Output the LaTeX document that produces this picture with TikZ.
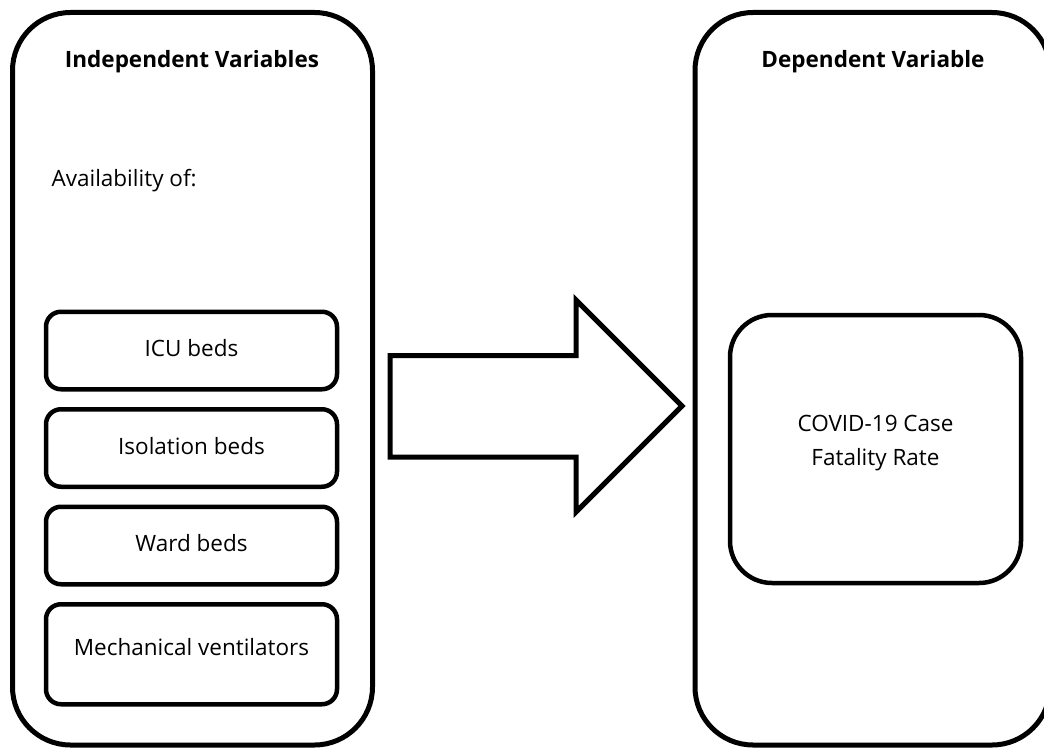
\documentclass[tikz,border=0pt]{standalone}
\usepackage{fontspec}
\setmainfont{Open Sans}
\usetikzlibrary{positioning}
\tikzset{outerbox/.style={draw, rectangle, rounded corners=58pt, line width=5pt, minimum height=732.5pt, inner sep=0pt, outer sep=0pt}}
\tikzset{itembox/.style={draw, rectangle, rounded corners=15pt, line width=4.5pt, minimum width=291pt, minimum height=77.5pt, text height=17pt, text depth=5pt, inner sep=0pt, outer sep=0pt, font=\fontsize{22.5}{34}\selectfont}}
\tikzset{title/.style={font=\bfseries\fontsize{22.5}{34}\selectfont}}
\tikzset{blockarrow/.style={draw, line width=5pt}}

\begin{document}
\begin{tikzpicture}[x=1pt, y=-1pt]
    \useasboundingbox (0,0) rectangle (1044,749);

    % the two big panels
    \node [outerbox, minimum width=360pt] (indep) at (192.5,378.75) {};
    \node [outerbox, minimum width=355pt] (dep) at (872.5,378.75) {};
    \node [title] (indeptitle) at (192,62) {Independent Variables};
    \node [title] (deptitle) at (873,62) {Dependent Variable};
    \node [anchor=west, font=\fontsize{22.5}{34}\selectfont] (avail) at (48,181) {Availability of:};

    % independent variables
    \node [itembox] (icu) at (191.5,350.5) {ICU beds};
    \node [itembox, below=20pt of icu] (isolation) {Isolation beds};
    \node [itembox, below=20pt of isolation] (ward) {Ward beds};
    \node [itembox, below=20pt of ward, minimum height=100pt, text depth=15pt] (vent) {Mechanical ventilators};

    % dependent variable
    \node [itembox, rounded corners=42pt, minimum height=268pt, text height=, text depth=18pt, align=center] (cfr) at (875.5,449) {COVID-19 Case\\Fatality Rate};

    % block arrow between the panels
    \draw [blockarrow] (390,355.5) -- (576,355.5) -- (576,300) -- (682,406) -- (576,512) -- (576,457) -- (390,457) -- cycle;
\end{tikzpicture}
\end{document}
